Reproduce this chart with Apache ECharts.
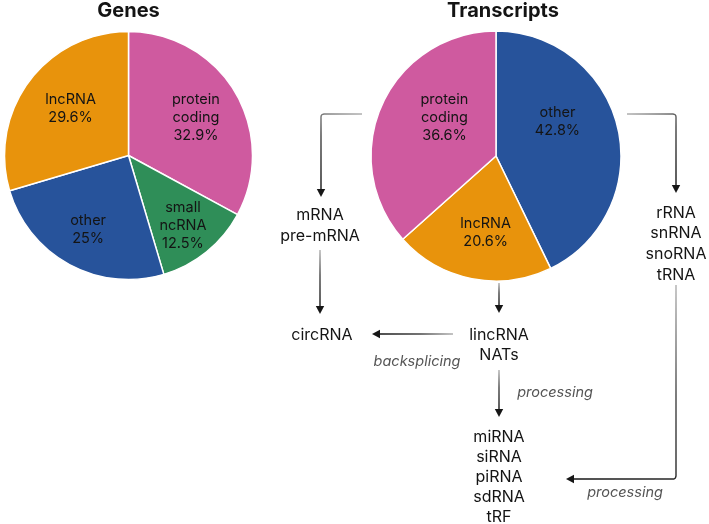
<!DOCTYPE html>
<html><head><meta charset="utf-8">
<script src="https://cdn.jsdelivr.net/npm/echarts@6/dist/echarts.min.js"></script>
<style>html,body{margin:0;padding:0;background:#fff}#chart{width:709px;height:524px}</style>
</head><body><div id="chart"></div>
<script>
// ---- data ----
const geneCategories = ['protein coding', 'small ncRNA', 'other', 'lncRNA'];
const geneValues = [32.9, 12.5, 25, 29.6];
const transcriptCategories = ['other', 'lncRNA', 'protein coding'];
const transcriptValues = [42.8, 20.6, 36.6];
const panelTitles = ['Genes', 'Transcripts'];
const proteinProducts = ['mRNA', 'pre-mRNA'];
const otherProducts = ['rRNA', 'snRNA', 'snoRNA', 'tRNA'];
const lncProducts = ['lincRNA', 'NATs'];
const smallProducts = ['miRNA', 'siRNA', 'piRNA', 'sdRNA', 'tRF'];
const circProduct = ['circRNA'];
const stepLabels = ['backsplicing', 'processing', 'processing'];

// ---- styles ----
const FONT = 'Inter, Roboto, sans-serif';
const catColors = {
  'protein coding': '#CF5A9F',
  'small ncRNA': '#2F8E58',
  'other': '#27539B',
  'lncRNA': '#E8930C'
};
const TXT = '#141414';

function pieData(cats, vals) {
  return cats.map((c, i) => ({ name: c, value: vals[i], itemStyle: { color: catColors[c] } }));
}

const genesPie = { center: [128.5, 155.5], r: 124 };
const trPie = { center: [496, 156], r: 125 };
// label nudges (layout only)
const geneNudge = [[0, 2], [5, 9], [-3, 5], [5, 0]];
const trNudge = [[-16, -17], [5, -1], [21, -6]];

function visiblePie(d, cats, vals) {
  return {
    type: 'pie', center: d.center, radius: [0, d.r], startAngle: 90, clockwise: true,
    silent: true, animation: false,
    data: pieData(cats, vals),
    itemStyle: { borderColor: '#ffffff', borderWidth: 1.5 },
    label: { show: false }, labelLine: { show: false }
  };
}
function labelPie(d, cats, vals, nudge) {
  return {
    type: 'pie', center: d.center, radius: [Math.round(d.r * 0.22), d.r], startAngle: 90, clockwise: true,
    silent: true, animation: false, z: 5,
    data: cats.map((c, i) => ({ name: c, value: vals[i] })),
    itemStyle: { color: 'rgba(0,0,0,0)', borderWidth: 0 },
    label: {
      show: true, position: 'inside',
      formatter: p => p.name.replace(' ', '\n') + '\n' + p.value + '%',
      fontFamily: FONT, fontSize: 14.5, lineHeight: 18, color: TXT, align: 'center'
    },
    labelLine: { show: false },
    labelLayout: p => ({ dx: nudge[p.dataIndex][0], dy: nudge[p.dataIndex][1] })
  };
}

// ---- annotation graphics ----
const G = [];
function text(str, x, y, opt) {
  opt = opt || {};
  G.push({
    type: 'text', z: 10, silent: true,
    style: {
      text: str, x: x, y: y,
      font: (opt.style || 'normal') + ' ' + (opt.weight || 'normal') + ' ' + (opt.size || 16) + 'px ' + FONT,
      fill: opt.color || TXT,
      textAlign: 'center', textVerticalAlign: 'middle', align: 'center', verticalAlign: 'middle',
      lineHeight: opt.lh || 20
    }
  });
}
function arrow(points, dir) {
  const a = points[0], b = points[points.length - 1];
  G.push({
    type: 'polyline', z: 8, silent: true,
    shape: { points: points },
    style: {
      fill: null, lineWidth: 1.4, lineJoin: 'round',
      stroke: new echarts.graphic.LinearGradient(a[0], a[1], b[0], b[1],
        [{ offset: 0, color: '#b0b0b0' }, { offset: 0.45, color: '#444' }, { offset: 1, color: '#161616' }], true)
    }
  });
  const L = 8, W = 4.2;
  let tip, p1, p2;
  if (dir === 'down') { tip = [b[0], b[1] + L]; p1 = [b[0] - W, b[1]]; p2 = [b[0] + W, b[1]]; }
  else if (dir === 'left') { tip = [b[0] - L, b[1]]; p1 = [b[0], b[1] - W]; p2 = [b[0], b[1] + W]; }
  G.push({ type: 'polygon', z: 9, silent: true, shape: { points: [tip, p1, p2] }, style: { fill: '#161616' } });
}

// titles
text(panelTitles[0], genesPie.center[0], 10.5, { weight: 'bold', size: 20 });
text(panelTitles[1], 503, 10.5, { weight: 'bold', size: 20 });

// flow texts
text(proteinProducts.join('\n'), 320, 225.5, { size: 16, lh: 20.5 });
text(otherProducts.join('\n'), 676, 244, { size: 16, lh: 20.7 });
text(circProduct[0], 322, 335, { size: 16 });
text(lncProducts.join('\n'), 499, 345, { size: 16, lh: 20 });
text(smallProducts.join('\n'), 499, 477.5, { size: 16, lh: 20 });
text(stepLabels[0], 417, 362, { style: 'italic', size: 14.5, color: '#555555' });
text(stepLabels[1], 555, 393, { style: 'italic', size: 14.5, color: '#555555' });
text(stepLabels[2], 625, 493, { style: 'italic', size: 14.5, color: '#555555' });

// arrows
arrow([[362, 114], [324, 114], [322, 114.6], [321.3, 115.4], [321, 117], [321, 189]], 'down');
arrow([[320, 250], [320, 306]], 'down');
arrow([[499, 283], [499, 305]], 'down');
arrow([[453, 334], [380, 334]], 'left');
arrow([[499, 370], [499, 409]], 'down');
arrow([[627, 114], [673, 114], [675, 114.6], [675.7, 115.4], [676, 117], [676, 185]], 'down');
arrow([[676, 285], [676, 476], [675.4, 478], [674, 479], [673, 479], [574, 479]], 'left');

const chart = echarts.init(document.getElementById('chart'), null, { renderer: 'canvas' });
chart.setOption({
  backgroundColor: '#ffffff',
  animation: false,
  series: [
    visiblePie(genesPie, geneCategories, geneValues),
    labelPie(genesPie, geneCategories, geneValues, geneNudge),
    visiblePie(trPie, transcriptCategories, transcriptValues),
    labelPie(trPie, transcriptCategories, transcriptValues, trNudge)
  ],
  graphic: { elements: G }
});
</script>
</body></html>
